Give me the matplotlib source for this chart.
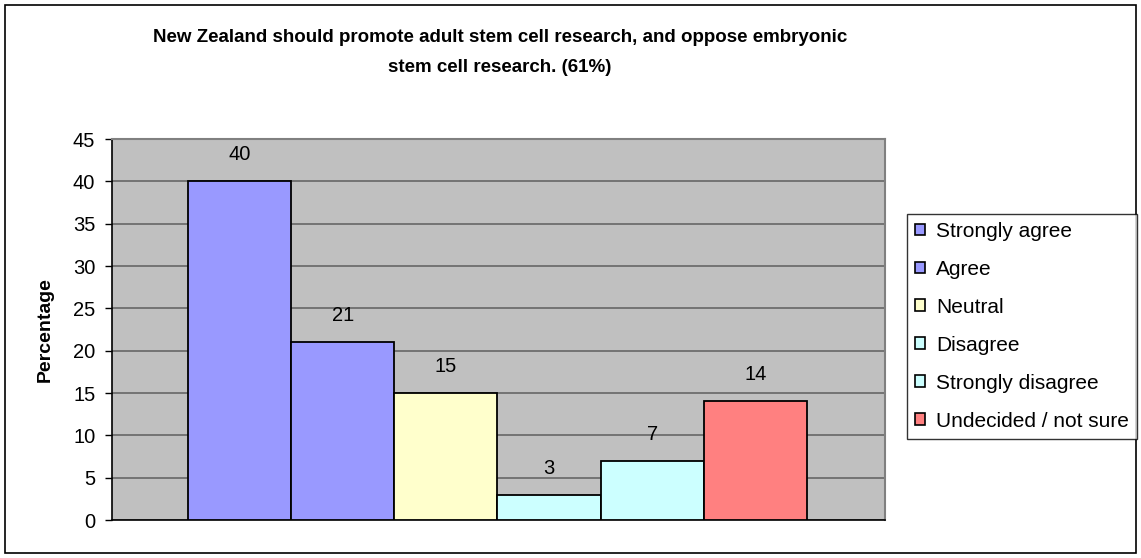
import matplotlib
matplotlib.use("Agg")
import matplotlib.pyplot as plt
from matplotlib.patches import Rectangle, Patch

categories = ["Strongly agree", "Agree", "Neutral", "Disagree", "Strongly disagree", "Undecided / not sure"]
values = [40, 21, 15, 3, 7, 14]
colors = ["#9999FF", "#9999FF", "#FFFFCC", "#CCFFFF", "#CCFFFF", "#FF8080"]
yticks = [0, 5, 10, 15, 20, 25, 30, 35, 40, 45]
title_lines = ["New Zealand should promote adult stem cell research, and oppose embryonic",
               "stem cell research. (61%)"]

plt.rcParams['font.family'] = ['Liberation Sans', 'DejaVu Sans']

W, H = 1141, 558
fig = plt.figure(figsize=(W/100, H/100), dpi=100)
fig.patches.append(Rectangle((5/W, 5/H), 1131/W, 548/H, transform=fig.transFigure,
                             fill=False, edgecolor="#000000", linewidth=1.2))

ax = fig.add_axes([112/W, 1-520/H, (885-112)/W, (520-139)/H])
ax.set_facecolor("#C0C0C0")
x = list(range(len(values)))
ax.bar(x, values, width=1.0, color=colors, edgecolor="black", linewidth=1.3, zorder=3)
for xi, v in zip(x, values):
    ax.text(xi, v + 3.13, str(v), ha="center", va="center", fontsize=14.5, zorder=4)

ax.set_xlim(-1.236, 6.256)
ax.set_ylim(0, 45)
ax.set_yticks(yticks)
ax.set_xticks([])
ax.tick_params(axis="y", direction="out", length=5, width=1, labelsize=14.5, colors="black", pad=7)
ax.yaxis.grid(True, color="#666666", linewidth=1.2, zorder=1)
ax.set_axisbelow(True)
for s in ["top", "right"]:
    ax.spines[s].set_color("#808080")
    ax.spines[s].set_linewidth(1.5)
ax.spines["left"].set_color("black")
ax.spines["bottom"].set_color("black")
ax.spines["left"].set_linewidth(1.2)
ax.spines["bottom"].set_linewidth(1.2)
ax.set_ylabel("Percentage", fontsize=14, fontweight="bold")
ax.yaxis.set_label_coords((54 - 112) / (885 - 112), 0.5)

fig.text(500/W, 1-37/H, title_lines[0], ha="center", va="center", fontsize=13.5, fontweight="bold")
fig.text(500/W, 1-67/H, title_lines[1], ha="center", va="center", fontsize=13.5, fontweight="bold")

handles = [Patch(facecolor=c, edgecolor="black", linewidth=1.2) for c in colors]
leg = fig.legend(handles, categories, loc="upper left", bbox_to_anchor=(907/W, 1-214/H),
                 fontsize=15, frameon=True, fancybox=False, edgecolor="black",
                 handlelength=0.5, handleheight=0.5, handletextpad=0.5,
                 labelspacing=0.91, borderpad=0.38, borderaxespad=0)
leg.get_frame().set_linewidth(1.0)

fig.savefig("out.png", dpi=100)
